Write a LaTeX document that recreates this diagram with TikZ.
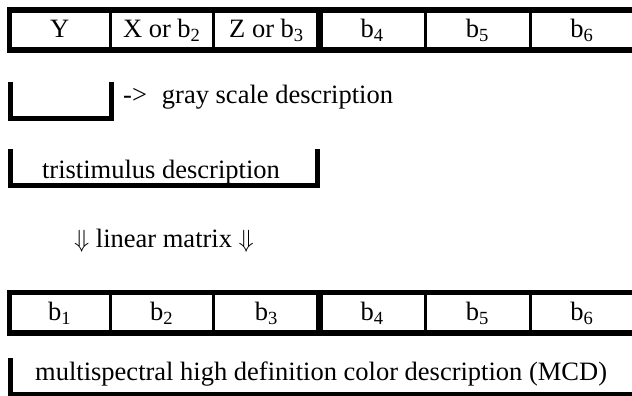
\documentclass[tikz,border=0pt]{standalone}
\usepackage{fontspec}
\setmainfont{Liberation Serif}
\begin{document}
\begin{tikzpicture}[x=1pt,y=-1pt,
  txt/.style={inner sep=0pt,font=\fontsize{26.5}{30}\selectfont},
  cell/.style={txt,text height=18pt,text depth=2pt},
  divline/.style={line width=3pt},
  frame/.style={line width=5.5pt},
  heavy/.style={line width=7pt},
  brk/.style={line width=5pt,line join=miter}]
\useasboundingbox (0,0) rectangle (632,396);
% top row
\coordinate (tA) at (9.5,10);
\coordinate (tB) at (640,50);
\node[cell] (t1) at (59.75,30) {Y};
\node[cell] (t2) at (161.75,30) {X or b\textsubscript{2}};
\node[cell] (t3) at (266.5,30) {Z or b\textsubscript{3}};
\node[cell] (t4) at (372.25,30) {b\textsubscript{4}};
\node[cell] (t5) at (477.5,30) {b\textsubscript{5}};
\node[cell] (t6) at (582,30) {b\textsubscript{6}};
\draw[divline] (110,10) -- (110,50);
\draw[divline] (213.5,10) -- (213.5,50);
\draw[heavy] (319.5,10) -- (319.5,50);
\draw[divline] (425,10) -- (425,50);
\draw[divline] (530,10) -- (530,50);
\draw[frame] (tA) rectangle (tB);
% gray scale
\coordinate (g1) at (10,82);
\coordinate (g2) at (111.5,118.5);
\draw[brk] (g1) -- (g1 |- g2) -- (g2) -- (g2 |- g1);
\node[txt,anchor=base west] (gs) at (123,103) {->\hspace{15pt}gray scale description};
% tristimulus
\coordinate (r1) at (10,149);
\coordinate (r2) at (317.5,185);
\draw[brk] (r1) -- (r1 |- r2) -- (r2) -- (r2 |- r1);
\node[txt,anchor=base] (tri) at (161,178) {tristimulus description};
% linear matrix
\node[txt,anchor=base] (lm) at (164,247) {$\Downarrow$ linear matrix $\Downarrow$};
% bottom row
\coordinate (bA) at (9.5,292.5);
\coordinate (bB) at (640,333);
\node[cell] (b1) at (59.75,312.5) {b\textsubscript{1}};
\node[cell] (b2) at (161.75,312.5) {b\textsubscript{2}};
\node[cell] (b3) at (266.5,312.5) {b\textsubscript{3}};
\node[cell] (b4) at (372.25,312.5) {b\textsubscript{4}};
\node[cell] (b5) at (477.5,312.5) {b\textsubscript{5}};
\node[cell] (b6) at (582,312.5) {b\textsubscript{6}};
\draw[divline] (110,292.5) -- (110,333);
\draw[divline] (213.5,292.5) -- (213.5,333);
\draw[heavy] (319.5,292.5) -- (319.5,333);
\draw[divline] (425,292.5) -- (425,333);
\draw[divline] (530,292.5) -- (530,333);
\draw[frame] (bA) rectangle (bB);
% MCD
\coordinate (m1) at (10,358);
\coordinate (m2) at (640,394);
\draw[brk] (m1) -- (m1 |- m2) -- (m2);
\node[txt,anchor=base west] (mcd) at (35,380) {multispectral high definition color description (MCD)};
\end{tikzpicture}
\end{document}
